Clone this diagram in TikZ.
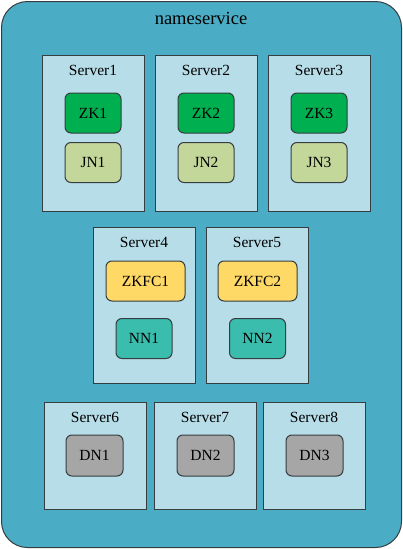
\documentclass[tikz,border=0pt]{standalone}
\usepackage{fontspec}
\setmainfont{Liberation Serif}
\usepackage{tikz}
\usetikzlibrary{positioning}

\definecolor{nsblue}{HTML}{4BACC6}
\definecolor{srvblue}{HTML}{B7DDE8}
\definecolor{edgegray}{HTML}{363D40}
\definecolor{zkgreen}{HTML}{00B050}
\definecolor{jnolive}{HTML}{C4D79B}
\definecolor{fcyellow}{HTML}{FFD966}
\definecolor{nnteal}{HTML}{3BBDAD}
\definecolor{dngray}{HTML}{A6A6A6}

\tikzset{
  server/.style={draw=edgegray, line width=1pt, fill=srvblue, minimum width=102pt, minimum height=156pt, inner sep=0pt},
  srvlabel/.style={font=\fontsize{15.5}{17}\selectfont},
  role/.style={draw=edgegray, line width=1pt, rounded corners=6pt, minimum width=56pt, minimum height=40pt, inner sep=0pt, font=\fontsize{15.5}{17}\selectfont}
}

\begin{document}
\begin{tikzpicture}[x=1pt, y=-1pt]
\useasboundingbox (0,0) rectangle (403,549);
% name service frame
\draw[draw=edgegray, line width=1pt, fill=nsblue, rounded corners=26pt] (1.5,1.5) rectangle (401.5,547.5);
\node[font=\fontsize{18.5}{20}\selectfont] (title) at (201,18) {nameservice};

% first row
\node[server] (server1) at (93,133) {};
\node[srvlabel] at (93,70) {Server1};
\node[role, fill=zkgreen] (zk1) at (93,113) {ZK1};
\node[role, fill=jnolive] (jn1) at (93,162.5) {JN1};

\node[server] (server2) at (206,133) {};
\node[srvlabel] at (206,70) {Server2};
\node[role, fill=zkgreen] (zk2) at (206,113) {ZK2};
\node[role, fill=jnolive] (jn2) at (206,162.5) {JN2};

\node[server] (server3) at (319,133) {};
\node[srvlabel] at (319,70) {Server3};
\node[role, fill=zkgreen] (zk3) at (319,113) {ZK3};
\node[role, fill=jnolive] (jn3) at (319,162.5) {JN3};

% second row
\node[server] (server4) at (144,305) {};
\node[srvlabel] at (144,242) {Server4};
\node[role, fill=fcyellow, minimum width=79pt] (zkfc1) at (145.5,281) {ZKFC1};
\node[role, fill=nnteal] (nn1) at (144,338.5) {NN1};

\node[server] (server5) at (257,305) {};
\node[srvlabel] at (257,242) {Server5};
\node[role, fill=fcyellow, minimum width=79pt] (zkfc2) at (257.5,281) {ZKFC2};
\node[role, fill=nnteal] (nn2) at (257.5,338.5) {NN2};

% third row
\node[server, minimum height=107pt] (server6) at (95,455.5) {};
\node[srvlabel] at (95,417) {Server6};
\node[role, fill=dngray, minimum width=57pt, minimum height=41pt] (dn1) at (94.5,455.5) {DN1};

\node[server, minimum height=107pt] (server7) at (205,455.5) {};
\node[srvlabel] at (205,417) {Server7};
\node[role, fill=dngray, minimum width=57pt, minimum height=41pt] (dn2) at (205.5,455.5) {DN2};

\node[server, minimum height=107pt] (server8) at (314,455.5) {};
\node[srvlabel] at (314,417) {Server8};
\node[role, fill=dngray, minimum width=57pt, minimum height=41pt] (dn3) at (314.5,455.5) {DN3};
\end{tikzpicture}
\end{document}
